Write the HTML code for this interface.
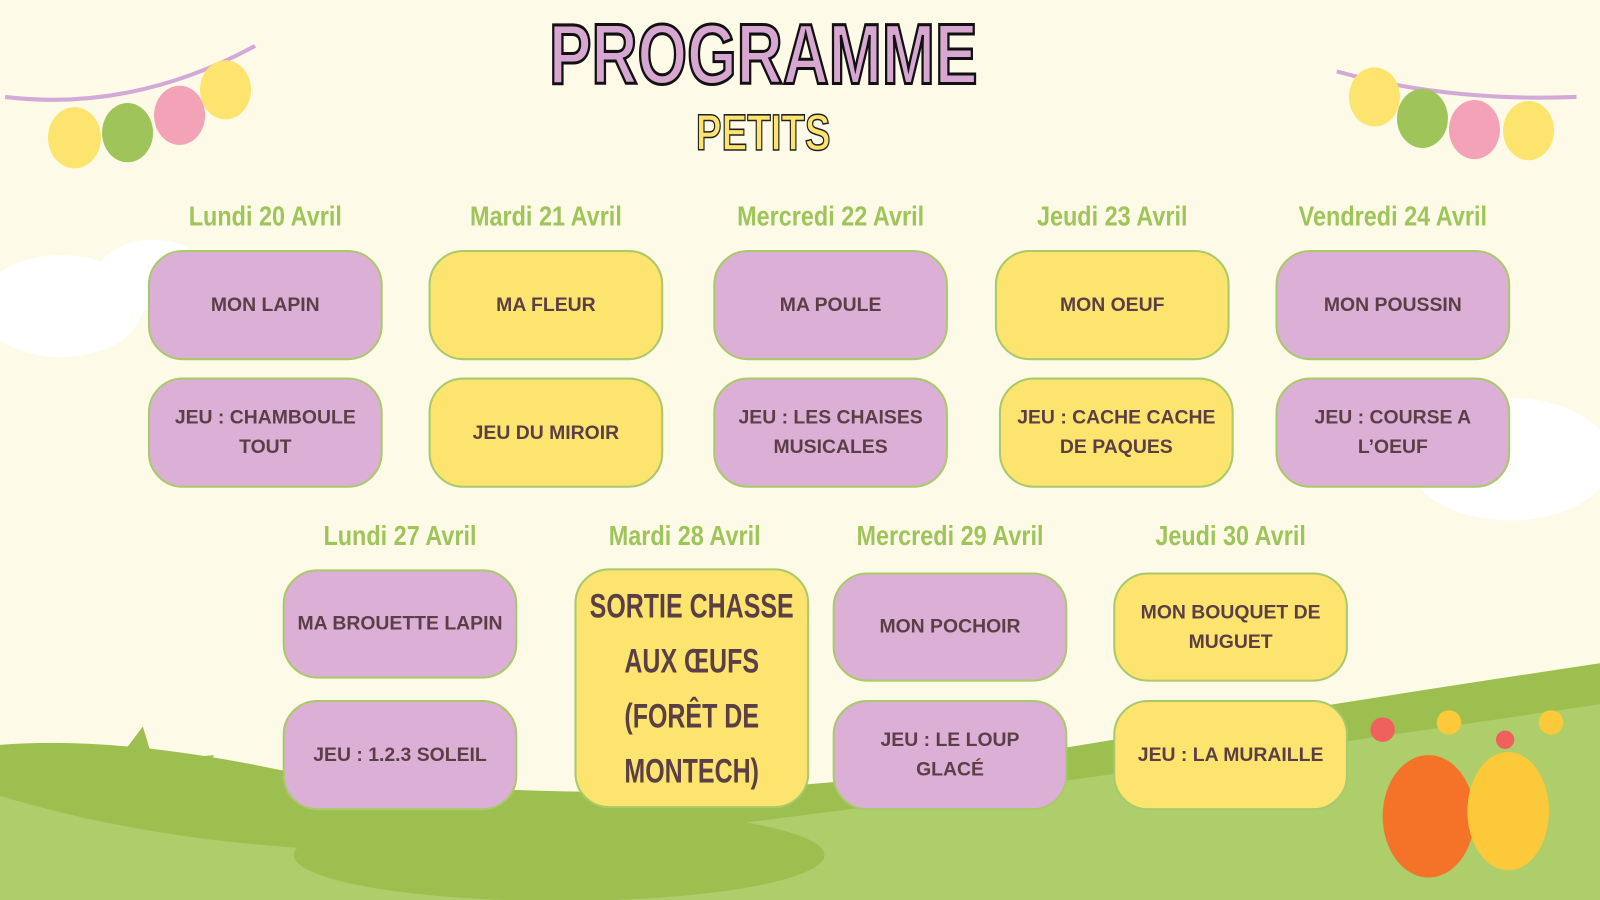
<!DOCTYPE html>
<html><head><meta charset="utf-8"><style>
body{margin:0;width:1600px;height:900px;overflow:hidden;background:#fdfbe8}
#w{position:absolute;left:0;top:0;width:1568px;height:882px;transform:scale(1.0204);transform-origin:0 0;font-family:"Liberation Sans",sans-serif}
.b{position:absolute;width:230px;box-sizing:border-box;border:2px solid #a9c96a;border-radius:34px;display:flex;align-items:center;justify-content:center;text-align:center;font-weight:bold;font-size:19px;line-height:29px;color:#5b3f47;padding:0 8px}
.p{background:#dcafd6}.y{background:#fde46e}
.d{position:absolute;width:260px;text-align:center;font-family:"Liberation Sans Narrow","Liberation Sans",sans-serif;font-weight:bold;font-size:27px;color:#9fc55a;transform:scaleX(.85)}
</style></head><body><div id="w">
<svg width="1568" height="882" style="position:absolute;left:0;top:0">
<ellipse cx="60" cy="300" rx="80" ry="50" fill="#fff"/><ellipse cx="150" cy="270" rx="55" ry="35" fill="#fff"/>
<ellipse cx="1480" cy="450" rx="100" ry="60" fill="#fff"/>
<path d="M0 730 Q120 720 300 760 Q700 800 1000 740 Q1300 690 1568 650 L1568 882 L0 882Z" fill="#9dbf50"/>
<path d="M0 780 Q300 870 700 810 Q1100 760 1568 690 L1568 882 L0 882Z" fill="#aecd6b"/>
<ellipse cx="548" cy="838" rx="260" ry="45" fill="#9dbf50"/>
<path d="M115 745 L140 712 L150 745 L210 740 L195 760Z" fill="#9dbf50"/>
<ellipse cx="1400" cy="800" rx="45" ry="60" fill="#f57329"/><ellipse cx="1478" cy="795" rx="40" ry="58" fill="#fcc93a"/>
<circle cx="1355" cy="715" r="12" fill="#f0615e"/><circle cx="1420" cy="708" r="12" fill="#fcc93a"/><circle cx="1520" cy="708" r="12" fill="#fcc93a"/><circle cx="1475" cy="725" r="9" fill="#f0615e"/>
<path d="M5 95 Q130 110 250 45" stroke="#d3a9d8" stroke-width="4" fill="none"/>
<path d="M1310 70 Q1420 100 1545 95" stroke="#d3a9d8" stroke-width="4" fill="none"/>
<ellipse cx="73" cy="135" rx="26" ry="30" fill="#fde46e"/><ellipse cx="125" cy="130" rx="25" ry="29" fill="#9fc55a"/><ellipse cx="176" cy="113" rx="25" ry="29" fill="#f3a2b7"/><ellipse cx="221" cy="88" rx="25" ry="29" fill="#fde46e"/>
<ellipse cx="1347" cy="95" rx="25" ry="29" fill="#fde46e"/><ellipse cx="1394" cy="116" rx="25" ry="29" fill="#9fc55a"/><ellipse cx="1445" cy="127" rx="25" ry="29" fill="#f3a2b7"/><ellipse cx="1498" cy="128" rx="25" ry="29" fill="#fde46e"/>
<text x="748" y="82" text-anchor="middle" font-family="Liberation Sans Narrow,Liberation Sans,sans-serif" font-weight="bold" font-size="84" fill="#d7a7d2" stroke="#111" stroke-width="3" textLength="420" lengthAdjust="spacingAndGlyphs">PROGRAMME</text>
<text x="748" y="147" text-anchor="middle" font-family="Liberation Sans Narrow,Liberation Sans,sans-serif" font-weight="bold" font-size="50" fill="#fde46e" stroke="#222" stroke-width="1.5" textLength="132" lengthAdjust="spacingAndGlyphs">PETITS</text>
</svg>
<div class="d" style="left:130px;top:197px">Lundi 20 Avril</div>
<div class="d" style="left:405px;top:197px">Mardi 21 Avril</div>
<div class="d" style="left:684px;top:197px">Mercredi 22 Avril</div>
<div class="d" style="left:960px;top:197px">Jeudi 23 Avril</div>
<div class="d" style="left:1235px;top:197px">Vendredi 24 Avril</div>
<div class="d" style="left:262px;top:510px">Lundi 27 Avril</div>
<div class="d" style="left:541px;top:510px">Mardi 28 Avril</div>
<div class="d" style="left:801px;top:510px">Mercredi 29 Avril</div>
<div class="d" style="left:1076px;top:510px">Jeudi 30 Avril</div>
<div class="b p" style="left:145px;top:245px;height:108px">MON LAPIN</div>
<div class="b y" style="left:420px;top:245px;height:108px">MA FLEUR</div>
<div class="b p" style="left:699px;top:245px;height:108px">MA POULE</div>
<div class="b y" style="left:975px;top:245px;height:108px">MON OEUF</div>
<div class="b p" style="left:1250px;top:245px;height:108px">MON POUSSIN</div>
<div class="b p" style="left:145px;top:370px;height:108px">JEU : CHAMBOULE<br>TOUT</div>
<div class="b y" style="left:420px;top:370px;height:108px">JEU DU MIROIR</div>
<div class="b p" style="left:699px;top:370px;height:108px">JEU : LES CHAISES<br>MUSICALES</div>
<div class="b y" style="left:979px;top:370px;height:108px">JEU : CACHE CACHE<br>DE PAQUES</div>
<div class="b p" style="left:1250px;top:370px;height:108px">JEU : COURSE A<br>L’OEUF</div>
<div class="b p" style="left:277px;top:558px;height:107px;padding:0 2px">MA BROUETTE LAPIN</div>
<div class="b p" style="left:277px;top:686px;height:108px">JEU : 1.2.3 SOLEIL</div>
<div class="b y" style="left:563px;top:557px;height:235px;padding:0"><span style="display:inline-block;transform:scaleX(.72);font-size:34px;line-height:54px;white-space:nowrap">SORTIE CHASSE<br>AUX ŒUFS<br>(FORÊT DE<br>MONTECH)</span></div>
<div class="b p" style="left:816px;top:561px;height:107px">MON POCHOIR</div>
<div class="b p" style="left:816px;top:686px;height:108px">JEU : LE LOUP<br>GLACÉ</div>
<div class="b y" style="left:1091px;top:561px;height:107px">MON BOUQUET DE<br>MUGUET</div>
<div class="b y" style="left:1091px;top:686px;height:108px">JEU : LA MURAILLE</div>
</div></body></html>
